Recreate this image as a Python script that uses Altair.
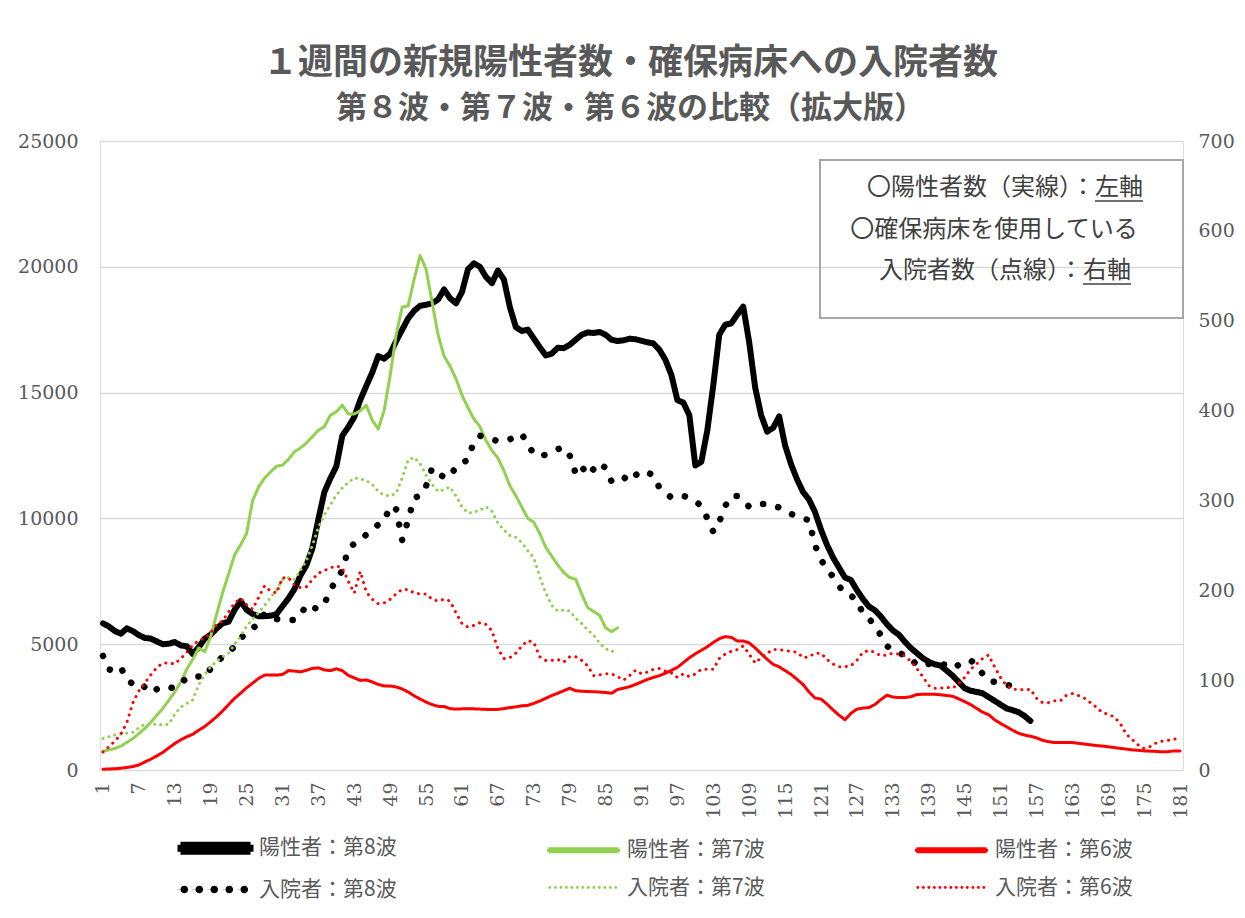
import altair as alt
import pandas as pd

GRAY = "#595959"
AXIS_FONT = "DejaVu Serif"
JP_FONT = "Noto Sans CJK JP"

series_names = ["陽性者：第8波", "陽性者：第7波", "陽性者：第6波",
                "入院者：第8波", "入院者：第7波", "入院者：第6波"]
# legend order (filled column by column: 3 columns x 2 rows)
legend_order = ["陽性者：第8波", "入院者：第8波", "陽性者：第7波",
                "入院者：第7波", "陽性者：第6波", "入院者：第6波"]
series_colors = {"陽性者：第8波": "#000000", "陽性者：第7波": "#92d050", "陽性者：第6波": "#ff0000",
                 "入院者：第8波": "#000000", "入院者：第7波": "#92d050", "入院者：第6波": "#ff0000"}
series_dashes = {"陽性者：第8波": [1, 0], "陽性者：第7波": [1, 0], "陽性者：第6波": [1, 0],
                 "入院者：第8波": [0.1, 15.5], "入院者：第7波": [0.1, 6], "入院者：第6波": [0.1, 6.5]}
series_widths = {"陽性者：第8波": 6, "陽性者：第7波": 3, "陽性者：第6波": 3,
                 "入院者：第8波": 6.5, "入院者：第7波": 3, "入院者：第6波": 3}

x_tick_labels = list(range(1, 182, 6))
left_ticks = [0, 5000, 10000, 15000, 20000, 25000]
right_ticks = [0, 100, 200, 300, 400, 500, 600, 700]

title_line1 = "１週間の新規陽性者数・確保病床への入院者数"
title_line2 = "第８波・第７波・第６波の比較（拡大版）"
note_line1a = "〇陽性者数（実線）："
note_line1b = "左軸"
note_line2 = "〇確保病床を使用している"
note_line3a = "入院者数（点線）："
note_line3b = "右軸"

# 陽性者：第8波 (left axis)
pos8 = [5830, 5700, 5520, 5420, 5630, 5520, 5360, 5250, 5220, 5110,
        5000, 5020, 5085, 4950, 4920, 4610, 4880, 5220, 5380, 5630,
        5830, 5900, 6370, 6710, 6370, 6200, 6115, 6115, 6130, 6200,
        6510, 6820, 7190, 7730, 8140, 8810, 9970, 11050, 11590, 12070,
        13290, 13630, 14030, 14710, 15260, 15800, 16450, 16350, 16550, 17050,
        17500, 17950, 18250, 18450, 18490, 18550, 18700, 19100, 18750, 18550,
        19000, 19900, 20140, 20000, 19600, 19350, 19850, 19500, 18400, 17600,
        17450, 17500, 17150, 16800, 16480, 16550, 16780, 16770, 16900, 17100,
        17300, 17390, 17370, 17410, 17300, 17100, 17050, 17080, 17140, 17120,
        17060, 17000, 16950, 16700, 16300, 15700, 14700, 14600, 14100, 12100,
        12250, 13500, 15300, 17300, 17700, 17750, 18100, 18420, 17000, 15200,
        14100, 13450, 13600, 14050, 12900, 12150, 11550, 11050, 10750, 10250,
        9550, 8950, 8450, 8050, 7650, 7550, 7150, 6800, 6500, 6350,
        6100, 5800, 5550, 5380, 5100, 4850, 4650, 4450, 4300, 4200,
        4150, 3950, 3750, 3500, 3250, 3150, 3100, 3050, 2900, 2750,
        2600, 2450, 2380, 2300, 2150, 1950]

# 陽性者：第7波 (left axis)
pos7 = [750, 800, 860, 950, 1100, 1250, 1450, 1650, 1900, 2170,
        2450, 2770, 3100, 3500, 4000, 4400, 4850, 4700, 5300, 6200,
        7050, 7800, 8550, 8950, 9400, 10700, 11250, 11600, 11850, 12070,
        12120, 12350, 12650, 12800, 13000, 13250, 13500, 13650, 14100, 14240,
        14500, 14150, 14150, 14280, 14500, 13900, 13550, 14300, 15700, 17300,
        18400, 18450, 19500, 20450, 19900, 18600, 17300, 16450, 16050, 15550,
        14900, 14400, 13950, 13650, 13100, 12700, 12400, 11900, 11300, 10900,
        10450, 10000, 9850, 9400, 8850, 8500, 8150, 7850, 7650, 7580,
        7000, 6450, 6300, 6150, 5650, 5500, 5650]

# 陽性者：第6波 (left axis)
pos6 = [30, 40, 50, 70, 100, 140, 200, 320, 430, 560,
        700, 880, 1050, 1200, 1320, 1420, 1580, 1730, 1920, 2120,
        2350, 2600, 2850, 3050, 3270, 3450, 3640, 3770, 3780, 3770,
        3800, 3950, 3930, 3900, 3960, 4040, 4060, 3980, 3950, 4020,
        3950, 3760, 3660, 3560, 3580, 3500, 3400, 3340, 3340, 3300,
        3220, 3100, 2950, 2820, 2700, 2600, 2530, 2520, 2440, 2420,
        2430, 2440, 2430, 2420, 2410, 2400, 2410, 2440, 2480, 2510,
        2550, 2570, 2650, 2740, 2850, 2960, 3050, 3150, 3250, 3150,
        3130, 3120, 3110, 3100, 3080, 3050, 3200, 3250, 3310, 3400,
        3500, 3600, 3680, 3750, 3850, 3960, 4080, 4270, 4460, 4620,
        4760, 4900, 5070, 5220, 5300, 5270, 5130, 5130, 5050, 4850,
        4620, 4400, 4200, 4100, 3950, 3800, 3600, 3400, 3100, 2860,
        2820, 2620, 2390, 2180, 2000, 2250, 2420, 2460, 2480, 2600,
        2800, 2970, 2900, 2880, 2880, 2910, 3000, 3010, 3010, 3010,
        2990, 2960, 2930, 2830, 2720, 2600, 2450, 2300, 2200, 2000,
        1850, 1720, 1580, 1460, 1390, 1340, 1280, 1180, 1130, 1090,
        1090, 1090, 1090, 1060, 1030, 1000, 970, 950, 920, 890,
        860, 830, 800, 780, 760, 750, 740, 720, 730, 760, 760]

# 入院者：第8波 (right axis)
hos8 = [127, 112, 110, 114, 100, 96, 98, 92, 86, 90,
        93, 92, 91, 96, 103, 104, 104, 103, 113, 120,
        126, 132, 137, 146, 154, 158, 162, 174, 173, 168,
        167, 167, 167, 172, 184, 181, 179, 185, 200, 212,
        222, 246, 252, 256, 262, 268, 273, 277, 294, 290,
        256, 278, 303, 305, 316, 336, 330, 326, 326, 338,
        342, 345, 366, 372, 370, 368, 366, 366, 368, 371,
        374, 362, 352, 349, 351, 354, 357, 359, 350, 330,
        338, 328, 335, 342, 336, 321, 322, 326, 321, 328,
        333, 331, 328, 314, 309, 303, 304, 305, 303, 299,
        294, 280, 265, 276, 294, 305, 305, 299, 293, 293,
        296, 296, 295, 292, 288, 285, 282, 280, 278, 250,
        234, 224, 215, 205, 196, 194, 189, 174, 169, 160,
        150, 138, 134, 131, 127, 124, 117, 116, 118, 119,
        119, 116, 113, 117, 121, 122, 117, 107, 99, 98,
        97, 95, 93, 91]

# 入院者：第7波 (right axis)
hos7 = [35, 37, 39, 40, 41, 42, 47, 51, 51, 51,
        50, 51, 62, 70, 74, 78, 95, 106, 115, 121,
        126, 130, 140, 149, 160, 168, 175, 183, 192, 200,
        212, 214, 212, 222, 233, 250, 270, 284, 295, 306,
        314, 320, 325, 324, 322, 318, 310, 306, 305, 308,
        325, 345, 348, 341, 328, 318, 310, 312, 315, 305,
        293, 286, 287, 289, 293, 288, 275, 267, 261, 259,
        253, 244, 236, 215, 197, 183, 177, 178, 177, 169,
        163, 156, 150, 141, 135, 132, 133]

# 入院者：第6波 (right axis)
hos6 = [20, 26, 32, 40, 53, 75, 88, 97, 106, 114,
        119, 119, 118, 124, 131, 139, 144, 147, 152, 162,
        166, 176, 186, 191, 184, 179, 192, 205, 199, 197,
        214, 214, 206, 203, 204, 212, 219, 222, 225, 227,
        225, 210, 197, 221, 198, 190, 185, 186, 190, 196,
        201, 201, 197, 196, 196, 190, 188, 190, 188, 175,
        163, 159, 161, 164, 162, 155, 135, 124, 125, 130,
        138, 144, 142, 126, 122, 122, 123, 120, 126, 126,
        122, 116, 105, 106, 107, 107, 104, 100, 105, 111,
        107, 109, 112, 113, 110, 108, 103, 107, 104, 107,
        112, 112, 112, 124, 129, 132, 134, 138, 129, 119,
        125, 130, 134, 134, 133, 132, 131, 125, 126, 130,
        130, 123, 118, 115, 115, 116, 122, 131, 133, 131,
        127, 128, 130, 129, 127, 121, 113, 104, 94, 91,
        91, 92, 91, 96, 103, 112, 118, 124, 128, 115,
        103, 94, 90, 90, 89, 90, 80, 75, 75, 77,
        77, 83, 85, 83, 80, 75, 70, 64, 62, 59,
        52, 40, 34, 28, 24, 26, 30, 32, 33, 34, 37]


def to_long(name, vals):
    return pd.DataFrame({"day": list(range(1, len(vals) + 1)),
                         "series": name, "value": vals})


pos_df = pd.concat([to_long(series_names[0], pos8),
                    to_long(series_names[1], pos7),
                    to_long(series_names[2], pos6)], ignore_index=True)
hos_df = pd.concat([to_long(series_names[3], hos8),
                    to_long(series_names[4], hos7),
                    to_long(series_names[5], hos6)], ignore_index=True)


# ---- legend symbol shapes (unit coords, scaled by sqrt(symbolSize)/2) ----
def bar_path(half):
    return f"M-1,{-half}H6V{half}H-1Z"


def dots_path(r, step, x0, n):
    parts = []
    for i in range(n):
        cx = x0 + i * step
        parts.append(f"M{cx - r:.3f},0a{r},{r} 0 1,0 {2 * r},0a{r},{r} 0 1,0 {-2 * r},0")
    return "".join(parts)


legend_shapes = {"陽性者：第8波": bar_path(0.35),
                 "陽性者：第7波": bar_path(0.15),
                 "陽性者：第6波": bar_path(0.15),
                 "入院者：第8波": dots_path(0.38, 1.5, -0.62, 5),
                 "入院者：第7波": dots_path(0.14, 0.55, -0.86, 13),
                 "入院者：第6波": dots_path(0.14, 0.55, -0.86, 13)}

color_scale = alt.Scale(domain=legend_order, range=[series_colors[s] for s in legend_order])
dash_scale = alt.Scale(domain=legend_order, range=[series_dashes[s] for s in legend_order])
width_scale = alt.Scale(type="ordinal", domain=legend_order, range=[series_widths[s] for s in legend_order])
shape_scale = alt.Scale(domain=legend_order, range=[legend_shapes[s] for s in legend_order])

legend = alt.Legend(title=None, orient="none", legendX=77, legendY=694,
                    columns=3, columnPadding=145, rowPadding=8,
                    symbolSize=400, labelOffset=55, symbolOpacity=1,
                    symbolStrokeWidth=0,
                    labelFont=JP_FONT, labelFontSize=21, labelColor=GRAY,
                    labelLimit=400)

x_enc = alt.X("day:Q",
              scale=alt.Scale(domain=[0.5, 181.5], nice=False, zero=False),
              axis=alt.Axis(values=x_tick_labels, labelAngle=-90, grid=False, ticks=False,
                            domain=False, labelFont=AXIS_FONT, labelFontSize=19,
                            labelColor=GRAY, labelPadding=12, title=None,
                            labelFlush=False, labelOverlap=False))

y_left = alt.Y("value:Q",
               scale=alt.Scale(domain=[0, 25000], nice=False),
               axis=alt.Axis(values=left_ticks, grid=True, gridColor="#d9d9d9", gridWidth=1.5,
                             domain=False, ticks=False, labelFont=AXIS_FONT, labelFontSize=19,
                             labelColor=GRAY, labelPadding=22, title=None, format="d",
                             labelFlush=False))

y_right = alt.Y("value:Q",
                scale=alt.Scale(domain=[0, 700], nice=False),
                axis=alt.Axis(orient="right", values=right_ticks, grid=False,
                              domain=False, ticks=False, labelFont=AXIS_FONT, labelFontSize=19,
                              labelColor=GRAY, labelPadding=15, title=None, format="d",
                              labelFlush=False))


def line_layer(df, y_enc):
    return alt.Chart(df).mark_line(strokeCap="round", strokeJoin="round").encode(
        x=x_enc, y=y_enc,
        color=alt.Color("series:N", scale=color_scale, legend=None),
        strokeDash=alt.StrokeDash("series:N", scale=dash_scale, legend=None),
        strokeWidth=alt.StrokeWidth("series:N", scale=width_scale, legend=None),
        order="day:Q")


pos_layer = line_layer(pos_df, y_left)
hos_layer = line_layer(hos_df, y_right)

# invisible layer that only carries the legend (colour + line-style symbol)
legend_df = pd.DataFrame({"series": legend_order})
legend_layer = alt.Chart(legend_df).mark_point(filled=True, opacity=0, size=400, strokeWidth=0).encode(
    color=alt.Color("series:N", scale=color_scale, legend=legend),
    shape=alt.Shape("series:N", scale=shape_scale, legend=legend))

one = pd.DataFrame({"k": [0]})
NOTE_COLOR = "#404040"
NOTE_SIZE = 24

box = alt.Chart(one).mark_rect(filled=False, stroke="#a6a6a6", strokeWidth=2).encode(
    x=alt.value(720), x2=alt.value(1083), y=alt.value(19), y2=alt.value(177))


def note(text, x, y, align):
    return alt.Chart(one).mark_text(text=text, font=JP_FONT, fontSize=NOTE_SIZE, color=NOTE_COLOR,
                                    align=align, baseline="middle").encode(x=alt.value(x), y=alt.value(y))


t1a = note(note_line1a, 995, 47, "right")
t1b = note(note_line1b, 995, 47, "left")
u1 = alt.Chart(one).mark_rule(color=NOTE_COLOR, strokeWidth=1.5).encode(
    x=alt.value(995), x2=alt.value(995 + 2 * NOTE_SIZE), y=alt.value(60))
t2 = note(note_line2, 894, 89, "center")
t3a = note(note_line3a, 983, 130, "right")
t3b = note(note_line3b, 983, 130, "left")
u3 = alt.Chart(one).mark_rule(color=NOTE_COLOR, strokeWidth=1.5).encode(
    x=alt.value(983), x2=alt.value(983 + 2 * NOTE_SIZE), y=alt.value(143))

chart = alt.layer(legend_layer, pos_layer, hos_layer, box,
                  t1a, t1b, u1, t2, t3a, t3b, u3).resolve_scale(
    y="independent"
).properties(
    width=1083, height=629,
    padding={"left": 92, "top": 133, "right": 54, "bottom": 140},
    autosize=alt.AutoSizeParams(type="none"),
    title=alt.TitleParams(text=title_line1, subtitle=title_line2,
                          font=JP_FONT, fontSize=35, fontWeight="bold", color=GRAY,
                          subtitleFont=JP_FONT, subtitleFontSize=31, subtitleFontWeight="bold",
                          subtitleColor=GRAY, subtitlePadding=13,
                          anchor="middle", frame="group", offset=8, dx=-11),
).configure_view(strokeWidth=0).configure(background="white")

chart.save("out.html", embed_options={"renderer": "svg", "actions": False})
